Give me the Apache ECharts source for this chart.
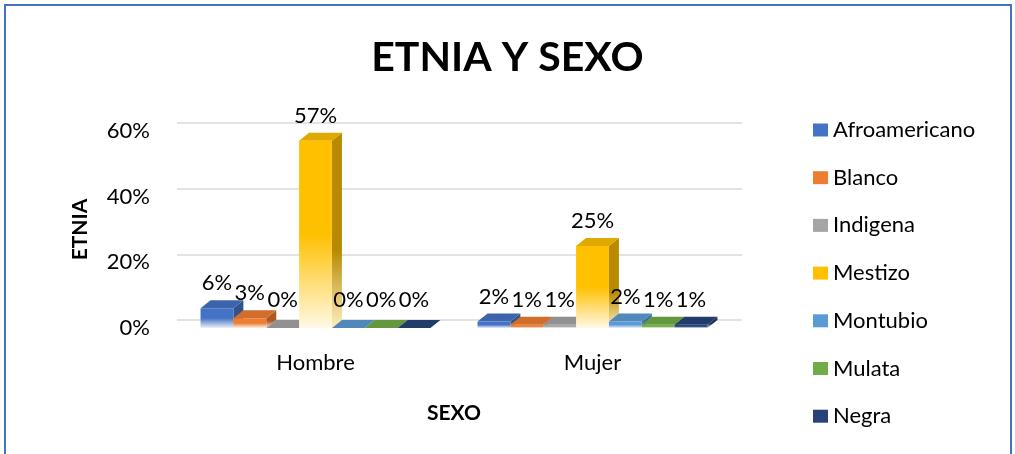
<!DOCTYPE html>
<html>
<head>
<meta charset="utf-8">
<script src="https://cdn.jsdelivr.net/npm/echarts@6/dist/echarts.min.js"></script>
<style>
  html, body { margin: 0; padding: 0; background: #fff; }
  #chart { width: 1015px; height: 454px; position: absolute; left: 0; top: 0; }
  #frame { position: absolute; left: 4px; top: 4px; width: 1004px; height: 470px; border: 2px solid #4472C4; pointer-events: none; }
</style>
</head>
<body>
<div id="chart"></div>
<div id="frame"></div>
<script>
// datos del grafico
var categories = ['Hombre', 'Mujer'];
var etnias = ['Afroamericano', 'Blanco', 'Indigena', 'Mestizo', 'Montubio', 'Mulata', 'Negra'];
var hombre = [6, 3, 0, 57, 0, 0, 0];
var mujer = [2, 1, 1, 25, 2, 1, 1];
var yTicks = [0, 20, 40, 60];
var colores = ['#4472C4', '#ED7D31', '#A5A5A5', '#FFC000', '#5B9BD5', '#70AD47', '#264478'];

var FONT = 'Lato';
var catGap = 0.17;   // hueco entre categorias
var dx = 10, dy = 8; // profundidad 3D

function shade(hex, f) {
  var n = parseInt(hex.slice(1), 16);
  var r = (n >> 16) & 255, g = (n >> 8) & 255, b = n & 255;
  function c(v) { return Math.max(0, Math.min(255, Math.round(v * f))); }
  return 'rgb(' + c(r) + ',' + c(g) + ',' + c(b) + ')';
}
function mix(hex, w) { // mezcla con blanco
  var n = parseInt(hex.slice(1), 16);
  var r = (n >> 16) & 255, g = (n >> 8) & 255, b = n & 255;
  function c(v) { return Math.round(v + (255 - v) * w); }
  return 'rgb(' + c(r) + ',' + c(g) + ',' + c(b) + ')';
}

function renderBar(params, api) {
  var k = params.seriesIndex;
  var n = etnias.length;
  var cat = api.value(0), val = api.value(1);
  var top = api.coord([cat, val]);
  var base = api.coord([cat, 0]);
  var band = api.size([1, 0])[0];
  var bw = band * (1 - catGap) / n;
  var x0 = top[0] - bw * n / 2 + k * bw;
  var x1 = x0 + bw;
  var yt = top[1], yb = base[1];
  var col = colores[k];
  return {
    type: 'group',
    children: [
      { // lado
        type: 'polygon',
        shape: { points: [[x1, yt], [x1 + dx, yt - dy], [x1 + dx, yb - dy], [x1, yb]] },
        style: { fill: new echarts.graphic.LinearGradient(0, 0, 0, 1, [
          { offset: 0, color: shade(col, 0.72) },
          { offset: 0.6, color: shade(col, 0.72) },
          { offset: 1, color: mix(col, 0.75) }
        ]) }
      },
      { // tapa
        type: 'polygon',
        shape: { points: [[x0, yt], [x1, yt], [x1 + dx, yt - dy], [x0 + dx, yt - dy]] },
        style: { fill: shade(col, 0.88) }
      },
      { // frente
        type: 'rect',
        shape: { x: x0, y: yt, width: bw, height: yb - yt },
        style: { fill: new echarts.graphic.LinearGradient(0, 0, 0, 1, [
          { offset: 0, color: col },
          { offset: 0.5, color: col },
          { offset: 1, color: mix(col, 0.9) }
        ]) }
      },
      {
        type: 'text',
        z2: 10,
        style: {
          text: val + '%',
          x: (x0 + x1) / 2,
          y: yt - dy - (val === 0 ? 9 : 6),
          align: 'center',
          verticalAlign: 'bottom',
          font: '22px ' + FONT,
          fill: '#000'
        }
      }
    ]
  };
}

var series = etnias.map(function (name, k) {
  return {
    name: name,
    type: 'custom',
    xAxisIndex: 0,
    yAxisIndex: 0,
    itemStyle: { color: colores[k] },
    encode: { x: 0, y: 1 },
    renderItem: renderBar,
    data: [[0, hombre[k]], [1, mujer[k]]]
  };
});

var chart = echarts.init(document.getElementById('chart'), null, { renderer: 'canvas' });
var option = {
  color: colores,
  animation: false,
  textStyle: { fontFamily: FONT },
  title: {
    text: 'ETNIA Y SEXO',
    left: 'center',
    top: 32,
    textStyle: { fontFamily: FONT, fontSize: 41, fontWeight: 'bold', color: '#000' }
  },
  legend: {
    data: etnias,
    orient: 'vertical',
    left: 808,
    top: 114,
    icon: 'rect',
    itemWidth: 15,
    itemHeight: 13,
    itemGap: 25.7,
    textStyle: { fontFamily: FONT, fontSize: 22, lineHeight: 22, color: '#000' }
  },
  grid: [
    { left: 177, top: 131, width: 554, height: 197 },
    { left: 177, top: 123, width: 565, height: 197 }
  ],
  xAxis: [
    {
      type: 'category',
      gridIndex: 0,
      data: categories,
      name: 'SEXO',
      nameLocation: 'middle',
      nameGap: 75,
      nameTextStyle: { fontFamily: FONT, fontSize: 21, fontWeight: 'bold', color: '#000' },
      axisLine: { show: false },
      axisTick: { show: false },
      axisLabel: { margin: 24, fontFamily: FONT, fontSize: 22, color: '#000' }
    },
    { type: 'category', gridIndex: 1, data: categories, show: false }
  ],
  yAxis: [
    {
      type: 'value',
      gridIndex: 0,
      min: yTicks[0],
      max: yTicks[yTicks.length - 1],
      interval: 20,
      name: 'ETNIA',
      nameLocation: 'middle',
      nameRotate: 90,
      nameGap: 86,
      nameTextStyle: { fontFamily: FONT, fontSize: 21, fontWeight: 'bold', color: '#000' },
      axisLine: { show: false },
      axisTick: { show: false },
      splitLine: { show: false },
      axisLabel: { margin: 27, fontFamily: FONT, fontSize: 22, color: '#000', formatter: '{value}%' }
    },
    {
      type: 'value',
      gridIndex: 1,
      min: yTicks[0],
      max: yTicks[yTicks.length - 1],
      interval: 20,
      axisLine: { show: false },
      axisTick: { show: false },
      axisLabel: { show: false },
      splitLine: { lineStyle: { color: '#E3E3E3', width: 2 } }
    }
  ],
  series: series
};
chart.setOption(option);
</script>
</body>
</html>
